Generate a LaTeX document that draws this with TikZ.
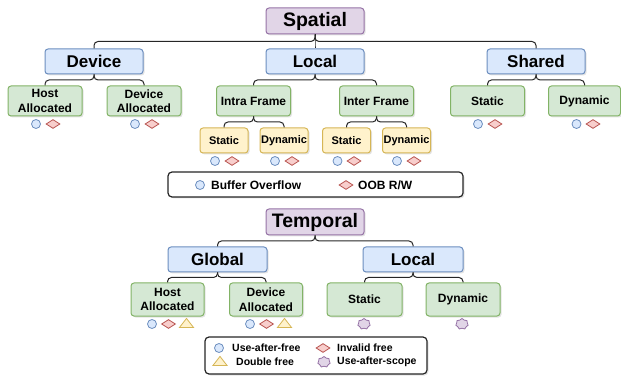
\documentclass[tikz,border=0pt]{standalone}
\usepackage{fontspec}
\setmainfont{Liberation Sans}
\usetikzlibrary{calc,shadows,shapes.geometric,shapes.symbols}

\definecolor{purpleFill}{HTML}{E1D5E7}
\definecolor{purpleLine}{HTML}{9673A6}
\definecolor{blueFill}{HTML}{DAE8FC}
\definecolor{blueLine}{HTML}{6C8EBF}
\definecolor{greenFill}{HTML}{D5E8D4}
\definecolor{greenLine}{HTML}{82B366}
\definecolor{yellowFill}{HTML}{FFF2CC}
\definecolor{yellowLine}{HTML}{D6B656}
\definecolor{redFill}{HTML}{F8CECC}
\definecolor{redLine}{HTML}{B85450}

\begin{document}
\begin{tikzpicture}[x=1pt, y=1pt,
    box/.style = {
      rectangle, rounded corners=3pt, line width=1pt, align=center,
      inner sep=0pt,
      drop shadow={shadow xshift=1.5pt, shadow yshift=-1.5pt, opacity=0.22} },
    root/.style = {
      box, draw=purpleLine, fill=purpleFill, minimum width=98, minimum height=26,
      font=\bfseries\fontsize{19.5}{22}\selectfont },
    level1/.style = {
      box, draw=blueLine, fill=blueFill, minimum width=98, minimum height=25,
      font=\bfseries\fontsize{17}{20}\selectfont },
    level2/.style = {
      box, draw=greenLine, fill=greenFill, minimum width=74, minimum height=30,
      font=\bfseries\fontsize{12}{14.5}\selectfont },
    level3/.style = {
      box, draw=yellowLine, fill=yellowFill, minimum width=48, minimum height=25,
      font=\bfseries\fontsize{11}{13}\selectfont },
    legend/.style = {
      rectangle, draw=black!85, line width=1.2pt, rounded corners=4pt, fill=white,
      drop shadow={shadow xshift=1.5pt, shadow yshift=-1.5pt, opacity=0.22} },
    legend-text/.style = { anchor=west, inner sep=0pt, font=\bfseries\fontsize{12}{14}\selectfont },
    legend-small/.style = { anchor=west, inner sep=0pt, font=\bfseries\fontsize{10.5}{12}\selectfont },
    branch/.style = {
      draw=black!85, line width=1pt, rounded corners=4pt,
      to path={(\tikztostart) |- ($(\tikztostart)!0.5!(\tikztotarget)$) -| (\tikztotarget)} },
    bluecirc/.style = { circle, draw=blueLine, fill=blueFill, line width=0.8pt, minimum size=9, inner sep=0pt },
    reddiam/.style = { diamond, draw=redLine, fill=redFill, line width=0.8pt, aspect=1.5,
      minimum width=14, minimum height=9, inner sep=0pt },
    yellowtri/.style = { isosceles triangle, isosceles triangle stretches, shape border rotate=90,
      draw=yellowLine, fill=yellowFill, line width=0.8pt, minimum width=14, minimum height=9, inner sep=0pt },
    purplecloud/.style = { cloud, cloud puffs=7, cloud puff arc=140, aspect=1.1, draw=purpleLine, fill=purpleFill,
      line width=0.8pt, minimum width=12.5, minimum height=11, inner sep=0pt }]
    \useasboundingbox (0,0) rectangle (621,-379);

    % spatial tree
    \node [root] (spatial) at (315, -21) {Spatial};
    \node [level1] (sdevice) at (94, -61.5) {Device};
    \node [level1] (slocal) at (315, -61.5) {Local};
    \node [level1] (sshared) at (536, -61.5) {Shared};
    \node [level2] (shost) at (45, -101) {Host\\Allocated};
    \node [level2] (sdevalloc) at (144, -101) {Device\\Allocated};
    \node [level2] (intra) at (253.5, -101) {Intra Frame};
    \node [level2] (inter) at (376.5, -101) {Inter Frame};
    \node [level2] (shstatic) at (487.5, -101) {Static};
    \node [level2, minimum width=72] (shdynamic) at (584.5, -101) {Dynamic};
    \node [level3] (intrastatic) at (224, -140.5) {Static};
    \node [level3] (intradynamic) at (284, -140.5) {Dynamic};
    \node [level3] (interstatic) at (346.5, -140.5) {Static};
    \node [level3] (interdynamic) at (406.5, -140.5) {Dynamic};

    \draw[branch] (spatial.south) to (sdevice.north);
    \draw[branch] (spatial.south) to (slocal.north);
    \draw[branch] (spatial.south) to (sshared.north);
    \draw[branch] (sdevice.south) to (shost.north);
    \draw[branch] (sdevice.south) to (sdevalloc.north);
    \draw[branch] (slocal.south) to (intra.north);
    \draw[branch] (slocal.south) to (inter.north);
    \draw[branch] (sshared.south) to (shstatic.north);
    \draw[branch] (sshared.south) to (shdynamic.north);
    \draw[branch] (intra.south) to (intrastatic.north);
    \draw[branch] (intra.south) to (intradynamic.north);
    \draw[branch] (inter.south) to (interstatic.north);
    \draw[branch] (inter.south) to (interdynamic.north);

    % bug marks under the spatial leaves
    \node [bluecirc] (shost-c) at (36, -124) {};
    \node [reddiam] (shost-d) at (53, -124) {};
    \node [bluecirc] (sdevalloc-c) at (135, -124) {};
    \node [reddiam] (sdevalloc-d) at (152, -124) {};
    \node [bluecirc] (shstatic-c) at (478, -124) {};
    \node [reddiam] (shstatic-d) at (495, -124) {};
    \node [bluecirc] (shdynamic-c) at (576.5, -124) {};
    \node [reddiam] (shdynamic-d) at (593, -124) {};
    \node [bluecirc] (intrastatic-c) at (215, -161) {};
    \node [reddiam] (intrastatic-d) at (232, -161) {};
    \node [bluecirc] (intradynamic-c) at (275, -161) {};
    \node [reddiam] (intradynamic-d) at (292, -161) {};
    \node [bluecirc] (interstatic-c) at (337.5, -161) {};
    \node [reddiam] (interstatic-d) at (354, -161) {};
    \node [bluecirc] (interdynamic-c) at (397, -161) {};
    \node [reddiam] (interdynamic-d) at (414, -161) {};

    \node [legend, minimum width=295, minimum height=25] (spatialkey) at (315.5, -184.5) {};
    \node [bluecirc] (key-ovfl) at (200, -185) {};
    \node [legend-text] (key-ovfl-txt) at (211, -185) {Buffer Overflow};
    \node [reddiam] (key-oob) at (346, -185) {};
    \node [legend-text] (key-oob-txt) at (358, -185) {OOB R/W};

    % temporal tree
    \node [root] (temporal) at (315, -222) {Temporal};
    \node [level1, minimum width=99] (tglobal) at (217.5, -259.5) {Global};
    \node [level1, minimum width=100] (tlocal) at (413, -259.5) {Local};
    \node [level2, minimum width=73, minimum height=33] (thost) at (167.5, -299.5) {Host\\Allocated};
    \node [level2, minimum width=73, minimum height=33] (tdevalloc) at (266, -299.5) {Device\\Allocated};
    \node [level2, minimum width=75, minimum height=33] (tstatic) at (364.5, -299.5) {Static};
    \node [level2, minimum width=74, minimum height=33] (tdynamic) at (463, -299.5) {Dynamic};

    \draw[branch] (temporal.south) to (tglobal.north);
    \draw[branch] (temporal.south) to (tlocal.north);
    \draw[branch] (tglobal.south) to (thost.north);
    \draw[branch] (tglobal.south) to (tdevalloc.north);
    \draw[branch] (tlocal.south) to (tstatic.north);
    \draw[branch] (tlocal.south) to (tdynamic.north);

    % bug marks under the temporal leaves
    \node [bluecirc] (thost-c) at (152, -324) {};
    \node [reddiam] (thost-d) at (168.5, -324) {};
    \node [yellowtri] (thost-t) at (186.5, -324) {};
    \node [bluecirc] (tdevalloc-c) at (250, -324) {};
    \node [reddiam] (tdevalloc-d) at (266.5, -324) {};
    \node [yellowtri] (tdevalloc-t) at (284.5, -324) {};
    \node [purplecloud] (tstatic-s) at (364, -324) {};
    \node [purplecloud] (tdynamic-s) at (462, -324) {};

    \node [legend, minimum width=222, minimum height=37] (temporalkey) at (316, -355.5) {};
    \node [bluecirc] (key-uaf) at (219, -348) {};
    \node [legend-small] (key-uaf-txt) at (232, -348) {Use-after-free};
    \node [reddiam] (key-inv) at (323, -348) {};
    \node [legend-small] (key-inv-txt) at (337, -348) {Invalid free};
    \node [yellowtri] (key-dbl) at (220, -362) {};
    \node [legend-small] (key-dbl-txt) at (236, -362) {Double free};
    \node [purplecloud] (key-uas) at (324, -362) {};
    \node [legend-small] (key-uas-txt) at (337, -362) {Use-after-scope};
  \end{tikzpicture}
\end{document}
